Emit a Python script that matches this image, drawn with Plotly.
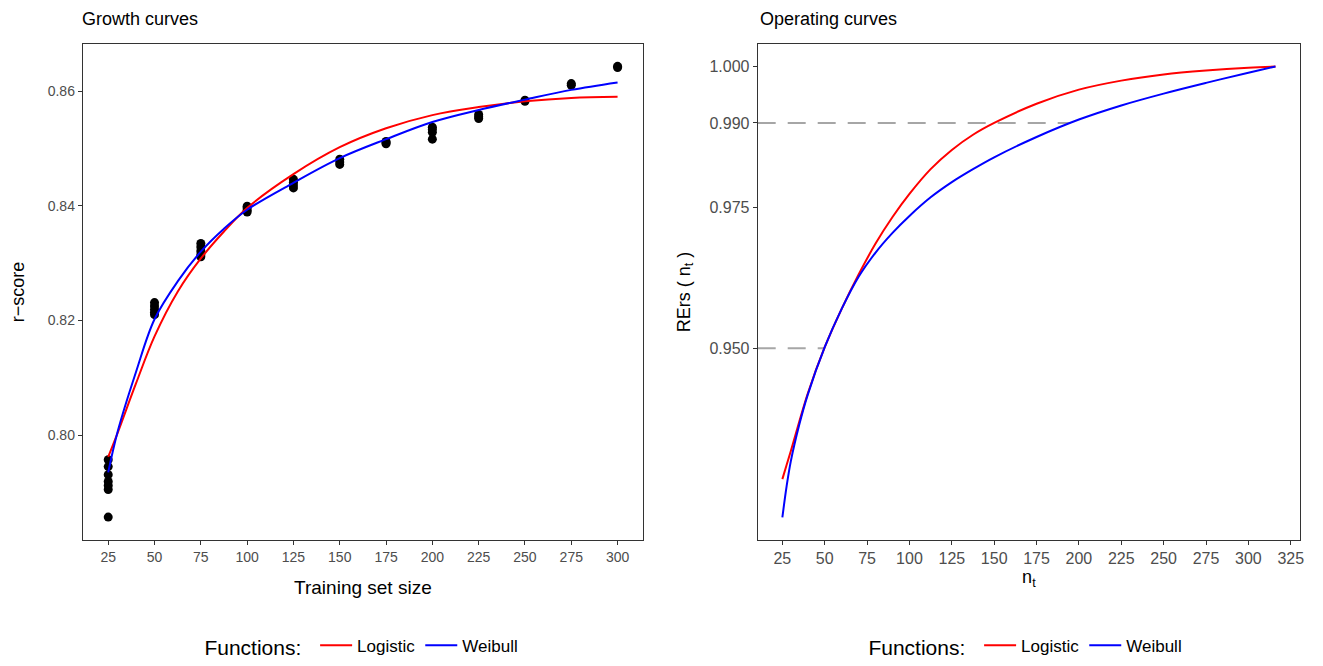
import plotly.graph_objects as go

# ---------------- data ----------------
# Growth curves: observed r-scores per training set size
pts_x = [25]*7 + [50]*5 + [75]*5 + [100]*4 + [125]*4 + [150]*3 + [175]*3 + [200]*4 + [225]*3 + [250]*2 + [275]*2 + [300]*2
pts_y = [0.7957, 0.7945, 0.7931, 0.7919, 0.7912, 0.7905, 0.7857,
         0.8231, 0.8225, 0.8219, 0.8214, 0.8210,
         0.8334, 0.8328, 0.8321, 0.8315, 0.8311,
         0.8399, 0.8396, 0.8392, 0.8389,
         0.8446, 0.8441, 0.8436, 0.8431,
         0.8481, 0.8476, 0.8472,
         0.8512, 0.8510, 0.8508,
         0.8537, 0.8533, 0.8528, 0.8516,
         0.8559, 0.8555, 0.8552,
         0.8584, 0.8582,
         0.8613, 0.8610,
         0.8643, 0.8641]

# fitted growth curves
grow_x = [25, 30, 40, 50, 62.5, 75, 87.5, 100, 125, 150, 175, 200, 225, 250, 275, 300]
grow_log = [0.7962, 0.8003, 0.8090, 0.8172, 0.8250, 0.8308, 0.8355, 0.8396, 0.8455, 0.8502, 0.8535, 0.8558, 0.8572, 0.8582, 0.8588, 0.8590]
grow_wei = [0.7935, 0.8005, 0.8110, 0.8202, 0.8268, 0.8320, 0.8360, 0.8393, 0.8440, 0.8483, 0.8516, 0.8546, 0.8567, 0.8585, 0.8602, 0.8615]

# Operating curves
op_x = [25, 27.5, 30, 35, 40, 50, 60, 70, 80, 90, 100, 112.5, 125, 137.5, 150, 175, 200, 225, 250, 275, 300, 316]
op_log = [0.9268, 0.9293, 0.9318, 0.9370, 0.9420, 0.9502, 0.9570, 0.9631, 0.9686, 0.9733, 0.9774, 0.9818, 0.9852, 0.9879,
          0.9900, 0.9934, 0.9959, 0.9975, 0.9986, 0.9993, 0.9998, 1.0]
op_wei = [0.9200, 0.9255, 0.9300, 0.9365, 0.9418, 0.9502, 0.9570, 0.9627, 0.9670, 0.9705, 0.9735, 0.9768, 0.9795, 0.9818,
          0.9839, 0.9875, 0.9906, 0.9931, 0.9952, 0.9971, 0.9989, 1.0]

# reference levels (dashed) and where they end
ref_levels = [0.95, 0.99]
ref_end_n = [50, 195]

x_ticks_left = [25, 50, 75, 100, 125, 150, 175, 200, 225, 250, 275, 300]
y_ticks_left = [0.80, 0.82, 0.84, 0.86]
x_ticks_right = [25, 50, 75, 100, 125, 150, 175, 200, 225, 250, 275, 300, 325]
y_ticks_right = [0.950, 0.975, 0.990, 1.000]

RED = "#ff0000"
BLUE = "#0000ff"
FONT = "Liberation Sans, Arial, sans-serif"
AXC = "#4d4d4d"

fig = go.Figure()

# left panel
fig.add_trace(go.Scatter(x=pts_x, y=pts_y, mode="markers", marker=dict(color="black", size=9),
                         showlegend=False, xaxis="x", yaxis="y", hoverinfo="skip"))
fig.add_trace(go.Scatter(x=grow_x, y=grow_log, mode="lines", line=dict(color=RED, width=2, shape="spline"),
                         name="Logistic", legend="legend", xaxis="x", yaxis="y"))
fig.add_trace(go.Scatter(x=grow_x, y=grow_wei, mode="lines", line=dict(color=BLUE, width=2, shape="spline"),
                         name="Weibull", legend="legend", xaxis="x", yaxis="y"))

# right panel
x2_min = 10.45
for lvl, endn in zip(ref_levels, ref_end_n):
    fig.add_trace(go.Scatter(x=[x2_min, endn], y=[lvl, lvl], mode="lines",
                             line=dict(color="#a6a6a6", width=2, dash="18px,12px"),
                             showlegend=False, xaxis="x2", yaxis="y2", hoverinfo="skip"))
fig.add_trace(go.Scatter(x=op_x, y=op_log, mode="lines", line=dict(color=RED, width=2, shape="spline"),
                         name="Logistic", legend="legend2", xaxis="x2", yaxis="y2"))
fig.add_trace(go.Scatter(x=op_x, y=op_wei, mode="lines", line=dict(color=BLUE, width=2, shape="spline"),
                         name="Weibull", legend="legend2", xaxis="x2", yaxis="y2"))

W, H = 1323, 666


def axis_common(fs):
    return dict(showgrid=False, zeroline=False, showline=True, mirror=True, linecolor="#333333", linewidth=1,
                ticks="outside", ticklen=4, tickcolor="#333333", tickfont=dict(size=fs, color=AXC, family=FONT))


legend_common = dict(orientation="h", y=-0.215, yanchor="middle",
                     title=dict(text="Functions: ", font=dict(size=21, color="black"), side="left"),
                     font=dict(size=17, color="black"), bgcolor="rgba(0,0,0,0)", itemwidth=32)

fig.update_layout(
    width=W, height=H,
    margin=dict(l=0, r=0, t=44, b=120),
    paper_bgcolor="white", plot_bgcolor="white",
    font=dict(family=FONT, color="black"),
    xaxis=dict(domain=[83/W, 645/W], range=[11.25, 313.75], tickvals=x_ticks_left,
               title=dict(text="Training set size", font=dict(size=19, color="black"), standoff=16),
               anchor="y", **axis_common(14)),
    yaxis=dict(domain=[0, 1], range=[0.7817, 0.8682], tickvals=y_ticks_left, tickformat=".2f",
               title=dict(text="r\u2212score", font=dict(size=18, color="black"), standoff=18),
               anchor="x", **axis_common(14)),
    xaxis2=dict(domain=[760/W, 1304/W], range=[x2_min, 330.5], tickvals=x_ticks_right,
                title=dict(text="n<sub>t</sub>", font=dict(size=18, color="black"), standoff=2),
                anchor="y2", **axis_common(16)),
    yaxis2=dict(domain=[0, 1], range=[0.916, 1.004], tickvals=y_ticks_right, tickformat=".3f",
                title=dict(text="RErs ( n<sub>t</sub> )", font=dict(size=18, color="black"), standoff=14),
                anchor="x2", **axis_common(16)),
    legend=dict(x=364/W, xanchor="center", **legend_common),
    legend2=dict(x=1030/W, xanchor="center", **legend_common),
    annotations=[
        dict(text="Growth curves", x=80/W, y=1.0, xref="paper", yref="paper", xanchor="left", yanchor="bottom",
             yshift=13, showarrow=False, font=dict(size=18, color="black")),
        dict(text="Operating curves", x=760/W, y=1.0, xref="paper", yref="paper", xanchor="left", yanchor="bottom",
             yshift=13, showarrow=False, font=dict(size=18, color="black")),
    ],
)

fig.write_html("out.html")
